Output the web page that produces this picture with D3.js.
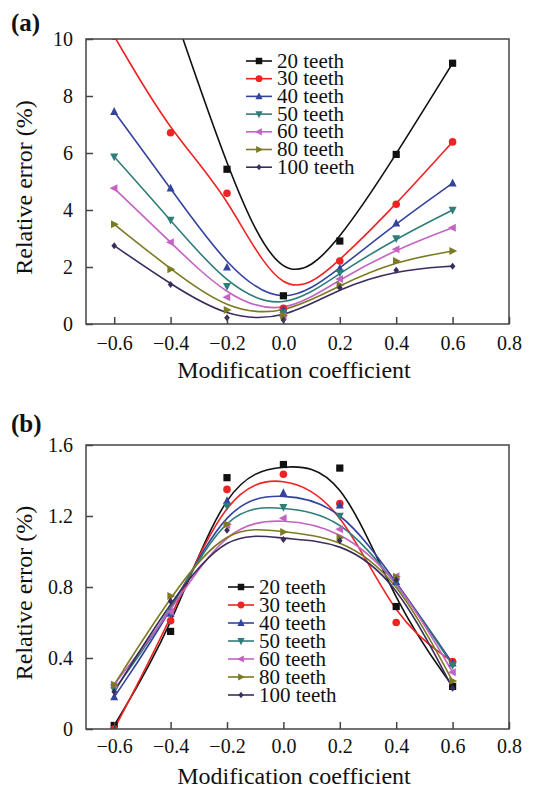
<!DOCTYPE html>
<html>
<head>
<meta charset="utf-8">
<script src="https://cdn.jsdelivr.net/npm/d3@7"></script>
<style>
  body { margin: 0; background: #fff; }
  svg { display: block; }
  text { font-family: "Liberation Serif", "Times New Roman", serif; fill: #111; }
</style>
</head>
<body>
<svg id="chart"></svg>
<script>
// modification coefficients (x values)
var coeffs = [-0.6, -0.4, -0.2, 0.0, 0.2, 0.4, 0.6];

// legend labels for each gear
var teethLabels = ["20 teeth", "30 teeth", "40 teeth", "50 teeth", "60 teeth", "80 teeth", "100 teeth"];

// panel (a) relative error (%), first black values run past the top of the axis
var errA20 = [17.0, 11.3, 5.43, 0.99, 2.91, 5.95, 9.15];
var errA30 = [10.1, 6.71, 4.59, 0.55, 2.21, 4.20, 6.39];
var errA40 = [7.45, 4.76, 1.99, 0.50, 1.95, 3.53, 4.94];
var errA50 = [5.87, 3.65, 1.33, 0.40, 1.80, 3.00, 4.00];
var errA60 = [4.76, 2.87, 0.94, 0.27, 1.58, 2.62, 3.38];
var errA80 = [3.50, 1.92, 0.49, 0.30, 1.37, 2.21, 2.56];
var errA100 = [2.75, 1.39, 0.22, 0.14, 1.27, 1.89, 2.03];

// panel (b) relative error (%)
var errB20 = [0.02, 0.55, 1.416, 1.49, 1.47, 0.69, 0.24];
var errB30 = [0.00, 0.61, 1.35, 1.435, 1.27, 0.60, 0.38];
var errB40 = [0.18, 0.65, 1.285, 1.33, 1.26, 0.83, 0.37];
var errB50 = [0.22, 0.66, 1.256, 1.25, 1.20, 0.83, 0.36];
var errB60 = [0.25, 0.66, 1.15, 1.187, 1.125, 0.86, 0.32];
var errB80 = [0.25, 0.75, 1.153, 1.11, 1.078, 0.858, 0.27];
var errB100 = [0.21, 0.72, 1.12, 1.068, 1.06, 0.84, 0.23];

// axis ticks
var xTicks = [-0.6, -0.4, -0.2, 0.0, 0.2, 0.4, 0.6, 0.8];
var yTicksA = [0, 2, 4, 6, 8, 10];
var yTicksB = [0, 0.4, 0.8, 1.2, 1.6];

// one colour + marker per gear
var colors = ["#111111", "#ee2424", "#34439e", "#2e7d78", "#c463c4", "#7c7a22", "#3a2c5c"];
var shapes = ["square", "circle", "up", "down", "left", "right", "diamond"];

function markerPath(shape, s) {
  // s is roughly the marker half size
  if (shape === "square") return "M" + (-s) + "," + (-s) + "h" + (2 * s) + "v" + (2 * s) + "h" + (-2 * s) + "Z";
  if (shape === "circle") return "M" + (-s) + ",0a" + s + "," + s + " 0 1,0 " + (2 * s) + ",0a" + s + "," + s + " 0 1,0 " + (-2 * s) + ",0Z";
  var h = s * 1.15;
  if (shape === "up") return "M0," + (-h) + "L" + s + "," + (h * 0.7) + "L" + (-s) + "," + (h * 0.7) + "Z";
  if (shape === "down") return "M0," + h + "L" + s + "," + (-h * 0.7) + "L" + (-s) + "," + (-h * 0.7) + "Z";
  if (shape === "left") return "M" + (-h) + ",0L" + (h * 0.7) + "," + (-s) + "L" + (h * 0.7) + "," + s + "Z";
  if (shape === "right") return "M" + h + ",0L" + (-h * 0.7) + "," + (-s) + "L" + (-h * 0.7) + "," + s + "Z";
  return "M0," + (-s) + "L" + (s * 0.8) + ",0L0," + s + "L" + (-s * 0.8) + ",0Z";
}

var markerSize = [3.6, 3.8, 4.0, 4.0, 4.0, 4.0, 3.5];

var svg = d3.select("#chart")
  .attr("width", 545)
  .attr("height", 789);

svg.append("rect").attr("width", 545).attr("height", 789).attr("fill", "#fff");

var left = 86, right = 509;

function drawPanel(cfg) {
  var x = d3.scaleLinear().domain([-0.7, 0.8]).range([left, right]);
  var y = d3.scaleLinear().domain(cfg.yDomain).range([cfg.bottom, cfg.top]);

  var g = svg.append("g");

  // clip lines to the plot box
  g.append("clipPath").attr("id", cfg.id + "-clip")
    .append("rect")
    .attr("x", left).attr("y", cfg.top)
    .attr("width", right - left).attr("height", cfg.bottom - cfg.top);

  var line = d3.line()
    .x(function(d, i) { return x(coeffs[i]); })
    .y(function(d) { return y(d); })
    .curve(d3.curveBasis);

  var plot = g.append("g").attr("clip-path", "url(#" + cfg.id + "-clip)");

  cfg.series.forEach(function(vals, k) {
    plot.append("path")
      .attr("d", line(vals))
      .attr("fill", "none")
      .attr("stroke", colors[k])
      .attr("stroke-width", 1.6);
  });

  cfg.series.forEach(function(vals, k) {
    plot.selectAll(null)
      .data(vals)
      .enter()
      .append("path")
      .attr("transform", function(d, i) { return "translate(" + x(coeffs[i]) + "," + y(d) + ")"; })
      .attr("d", markerPath(shapes[k], markerSize[k]))
      .attr("fill", colors[k]);
  });

  // frame
  g.append("rect")
    .attr("x", left).attr("y", cfg.top)
    .attr("width", right - left).attr("height", cfg.bottom - cfg.top)
    .attr("fill", "none").attr("stroke", "#444").attr("stroke-width", 1.5);

  // bottom axis, ticks point inward
  var xAxis = g.append("g")
    .attr("transform", "translate(0," + cfg.bottom + ")")
    .call(d3.axisBottom(x).tickValues(xTicks).tickFormat(d3.format(".1f")).tickSizeInner(-7).tickSizeOuter(0).tickPadding(12));
  xAxis.select(".domain").remove();
  xAxis.selectAll("line").attr("stroke", "#444").attr("stroke-width", 1.5);
  xAxis.selectAll("text").attr("font-size", "20px").attr("fill", "#111")
    .attr("font-family", "Liberation Serif, serif").attr("dy", cfg.xLabelDy);

  // left axis
  var yAxis = g.append("g")
    .attr("transform", "translate(" + left + ",0)")
    .call(d3.axisLeft(y).tickValues(cfg.yTicks).tickFormat(cfg.yFormat).tickSizeInner(-7).tickSizeOuter(0).tickPadding(13));
  yAxis.select(".domain").remove();
  yAxis.selectAll("line").attr("stroke", "#444").attr("stroke-width", 1.5);
  yAxis.selectAll("text").attr("font-size", "20px").attr("fill", "#111")
    .attr("font-family", "Liberation Serif, serif");

  // axis titles
  g.append("text")
    .attr("x", 294).attr("y", cfg.bottom + cfg.xTitleOff)
    .attr("text-anchor", "middle").attr("font-size", "24px")
    .text("Modification coefficient");

  g.append("text")
    .attr("transform", "translate(32," + ((cfg.top + cfg.bottom) / 2 + 6) + ") rotate(-90)")
    .attr("text-anchor", "middle").attr("font-size", "24px")
    .text("Relative error (%)");

  // panel letter
  g.append("text")
    .attr("x", 11).attr("y", cfg.letterY)
    .attr("font-size", "25px").attr("font-weight", "bold")
    .text(cfg.letter);

  // legend
  var legend = g.append("g");
  teethLabels.forEach(function(name, k) {
    var yy = cfg.legY + k * cfg.legStep;
    legend.append("line")
      .attr("x1", cfg.legX).attr("x2", cfg.legX + 26)
      .attr("y1", yy).attr("y2", yy)
      .attr("stroke", colors[k]).attr("stroke-width", 1.6);
    legend.append("path")
      .attr("transform", "translate(" + (cfg.legX + 13) + "," + yy + ")")
      .attr("d", markerPath(shapes[k], markerSize[k] * 0.9))
      .attr("fill", colors[k]);
    legend.append("text")
      .attr("x", cfg.legX + 31).attr("y", yy + 6.5)
      .attr("font-size", "21px")
      .text(name);
  });
}

drawPanel({
  id: "pa",
  top: 39, bottom: 324,
  yDomain: [0, 10], yTicks: yTicksA, yFormat: d3.format("d"),
  series: [errA20, errA30, errA40, errA50, errA60, errA80, errA100],
  xLabelDy: "0.71em", xTitleOff: 54,
  letter: "(a)", letterY: 31,
  legX: 246, legY: 61, legStep: 17.7
});

drawPanel({
  id: "pb",
  top: 445, bottom: 729,
  yDomain: [0, 1.6], yTicks: yTicksB,
  yFormat: function(d) { return d === 0 ? "0" : d3.format(".1f")(d); },
  series: [errB20, errB30, errB40, errB50, errB60, errB80, errB100],
  xLabelDy: "0.6em", xTitleOff: 55,
  letter: "(b)", letterY: 432,
  legX: 228, legY: 587, legStep: 18
});
</script>
</body>
</html>
